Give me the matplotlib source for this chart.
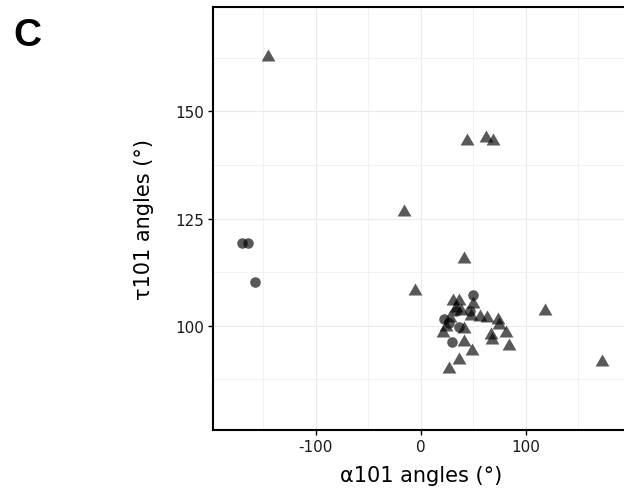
import matplotlib
matplotlib.use("Agg")
import matplotlib.pyplot as plt
from matplotlib.ticker import MultipleLocator

# alpha101 / tau101 angles, two groups
tri_alpha = [-146, 44, 62, 69, -16, 41, -6, 118, 173, 31, 36, 33, 38, 50, 48,
             56, 63, 73, 74, 28, 24, 21, 41, 41, 49, 36, 27, 67, 68, 81, 84]
tri_tau = [163.1, 143.5, 144.2, 143.6, 127.0, 116.1, 108.6, 103.9, 92.0, 106.3,
           106.3, 104.5, 103.8, 105.5, 102.8, 102.5, 102.2, 101.8, 100.6, 102.3,
           100.2, 98.8, 99.8, 96.6, 94.6, 92.6, 90.3, 98.4, 97.2, 98.7, 95.8]

circ_alpha = [-170, -164.5, -158, 50, 22, 27, 33, 36, 30, 47]
circ_tau = [119.4, 119.4, 110.2, 107.2, 101.5, 100.6, 103.5, 99.8, 96.2, 103.5]

x_ticks = [-100, 0, 100]
y_ticks = [100, 125, 150]

plt.rcParams["font.family"] = ["DejaVu Sans"]
plt.rcParams["axes.unicode_minus"] = False

fig = plt.figure(figsize=(6.24, 4.89), dpi=100)
ax = fig.add_axes([0.3413, 0.1186, 0.6663, 0.865])

# equilateral triangle like ggplot shape 17
tri = [(-1, -0.866), (1, -0.866), (0, 0.866)]
ax.plot(tri_alpha, tri_tau, linestyle="none", marker=tri, markersize=10,
        color="black", alpha=0.65, markeredgewidth=0, zorder=3)
ax.plot(circ_alpha, circ_tau, linestyle="none", marker="o", markersize=7.6,
        color="black", alpha=0.65, markeredgewidth=0, zorder=3)

ax.set_xlim(-198, 198)
ax.set_ylim(75.7, 174.3)
ax.set_xticks(x_ticks)
ax.set_yticks(y_ticks)
ax.xaxis.set_minor_locator(MultipleLocator(100, offset=50))
ax.yaxis.set_minor_locator(MultipleLocator(25, offset=12.5))
ax.grid(which="major", color="#ebebeb", linewidth=0.8)
ax.grid(which="minor", color="#f0f0f0", linewidth=0.6)
ax.set_axisbelow(True)
ax.tick_params(which="minor", length=0)
ax.tick_params(which="major", length=3.5, width=1, color="black",
               labelsize=11, labelcolor="#1a1a1a", pad=3)
for s in ax.spines.values():
    s.set_linewidth(1.5)
    s.set_color("black")

ax.set_xlabel("α101 angles (°)", fontsize=15, labelpad=8)
ax.set_ylabel("τ101 angles (°)", fontsize=15, labelpad=15)

fig.text(0.021, 0.905, "C", fontsize=28, family="Liberation Sans",
         fontweight="bold", va="baseline")

fig.savefig("out.png", dpi=100)
